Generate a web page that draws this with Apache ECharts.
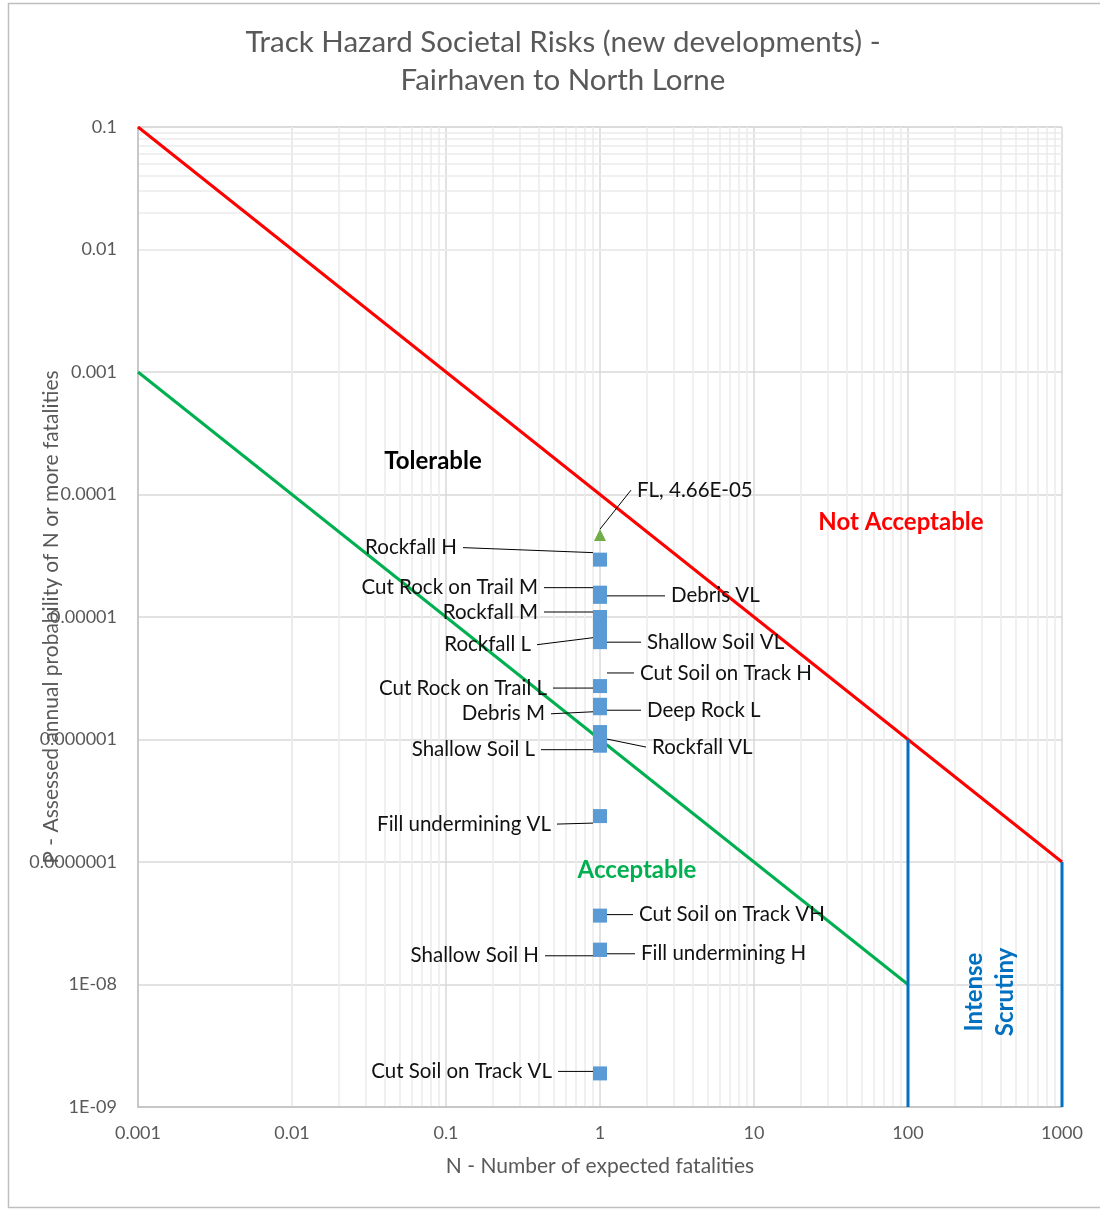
<!DOCTYPE html>
<html>
<head>
<meta charset="utf-8">
<script src="https://cdn.jsdelivr.net/npm/echarts@6/dist/echarts.min.js"></script>
<style>
  html, body { margin: 0; padding: 0; background: #ffffff; }
  #chart { width: 1100px; height: 1209px; }
</style>
</head>
<body>
<div id="chart"></div>
<script>
// ---- Data -------------------------------------------------------------
// Assessed hazards: N (expected fatalities) and P (annual probability)
const hazardNames = [
  'Rockfall H', 'Cut Rock on Trail M', 'Debris VL', 'Rockfall M', 'Rockfall L',
  'Shallow Soil VL', 'Cut Soil on Track H', 'Cut Rock on Trail L', 'Debris M',
  'Deep Rock L', 'Rockfall VL', 'Shallow Soil L', 'Fill undermining VL',
  'Cut Soil on Track VH', 'Shallow Soil H', 'Fill undermining H', 'Cut Soil on Track VL'
];
const hazardN = [1, 1, 1, 1, 1, 1, 1, 1, 1, 1, 1, 1, 1, 1, 1, 1, 1];
const hazardP = [
  2.94e-5, 1.58e-5, 1.46e-5, 1.0e-5, 7.73e-6,
  6.23e-6, 3.91e-6, 2.73e-6, 1.92e-6,
  1.80e-6, 1.15e-6, 8.9e-7, 2.37e-7,
  3.65e-8, 1.92e-8, 1.92e-8, 1.88e-9
];

// FL series (single point)
const flName = 'FL';
const flN = [1];
const flP = [4.66e-5];

// Societal risk criteria lines
const upperLimitN = [0.001, 1000];
const upperLimitP = [0.1, 1e-7];
const lowerLimitN = [0.001, 100];
const lowerLimitP = [0.001, 1e-8];
const scrutinyAN = [100, 100];
const scrutinyAP = [1e-6, 1e-9];
const scrutinyBN = [1000, 1000];
const scrutinyBP = [1e-7, 1e-9];

// Axis tick labels (one per decade)
const xTickLabels = ['0.001', '0.01', '0.1', '1', '10', '100', '1000'];
const yTickLabels = ['1E-09', '1E-08', '0.0000001', '0.000001', '0.00001',
                     '0.0001', '0.001', '0.01', '0.1'];

// ---- Label placement (offsets from each marker, in px) -----------------
const hazardLabelOffset = {
  'Rockfall H': [-137, -12],
  'Cut Rock on Trail M': [-56, -5],
  'Debris VL': [65, -1],
  'Rockfall M': [-56, -5],
  'Rockfall L': [-63, 14],
  'Shallow Soil VL': [41, 0],
  'Cut Soil on Track H': [34, 6],
  'Cut Rock on Trail L': [-47, 2],
  'Debris M': [-49, 9],
  'Deep Rock L': [41, 2],
  'Rockfall VL': [46, 15],
  'Shallow Soil L': [-59, 4],
  'Fill undermining VL': [-43, 8],
  'Cut Soil on Track VH': [33, -1],
  'Shallow Soil H': [-55, 6],
  'Fill undermining H': [35, 4],
  'Cut Soil on Track VL': [-42, -2]
};
const flLabelOffset = [31, -45];
const hiddenMarkers = ['Cut Soil on Track H'];

// ---- Helpers -----------------------------------------------------------
const FONT = 'Lato, "Open Sans", sans-serif';
const AXIS_GREY = '#595959';

function pairs(xs, ys) { return xs.map((x, i) => [x, ys[i]]); }
function decade(v) { return Math.round(Math.log10(v)); }
function sci(v) {
  const e = Math.floor(Math.log10(v));
  const m = v / Math.pow(10, e);
  const sign = e < 0 ? '-' : '+';
  const ae = Math.abs(e);
  return m.toFixed(2) + 'E' + sign + (ae < 10 ? '0' + ae : String(ae));
}

// Minor log gridlines at 2..9 within each decade
function minorLines(axisKey, fromExp, toExp) {
  const out = [];
  for (let e = fromExp; e < toExp; e++) {
    for (let k = 2; k <= 9; k++) {
      const o = {}; o[axisKey] = k * Math.pow(10, e);
      out.push(o);
    }
  }
  return out;
}

const hazardData = hazardNames.map((name, i) => {
  const item = { name: name, value: [hazardN[i], hazardP[i]] };
  if (hiddenMarkers.indexOf(name) >= 0) {
    item.itemStyle = { color: 'rgba(0,0,0,0)' };
  }
  return item;
});

const flData = flN.map((n, i) => ({ name: flName, value: [n, flP[i]] }));

// Transparent box + padding leaves a small gap between leader line and text
const pointLabel = {
  show: true,
  position: 'inside',
  color: '#111111',
  fontFamily: FONT,
  fontSize: 20.5,
  padding: [0, 6],
  backgroundColor: 'rgba(255,255,255,0)'
};
const leaderLine = { show: true, lineStyle: { color: '#000000', width: 1 } };

const chart = echarts.init(document.getElementById('chart'), null, { renderer: 'canvas' });

const option = {
  animation: false,
  backgroundColor: '#ffffff',
  title: {
    text: 'Track Hazard Societal Risks (new developments) -\nFairhaven to North Lorne',
    left: 558,
    top: 18,
    textAlign: 'center',
    textStyle: {
      fontFamily: FONT, fontSize: 29.5, fontWeight: 'normal',
      color: AXIS_GREY, lineHeight: 38
    }
  },
  grid: { left: 138, top: 127, right: 38, bottom: 102, containLabel: false },
  xAxis: {
    type: 'log', logBase: 10, min: 0.001, max: 1000, splitNumber: 6,
    name: 'N - Number of expected fatalities',
    nameLocation: 'middle', nameGap: 49, nameMoveOverlap: false,
    nameTextStyle: { fontFamily: FONT, fontSize: 21, color: AXIS_GREY },
    axisLine: { show: true, lineStyle: { color: '#BFBFBF', width: 1.5 } },
    axisTick: { show: false },
    axisLabel: {
      margin: 17, fontFamily: FONT, fontSize: 18, color: AXIS_GREY,
      formatter: v => xTickLabels[decade(v) + 3]
    },
    splitLine: { show: true, lineStyle: { color: '#D9D9D9', width: 1.5 } }
  },
  yAxis: {
    type: 'log', logBase: 10, min: 1e-9, max: 0.1, splitNumber: 8,
    name: 'P - Assessed annual probability of N or more fatalities',
    nameLocation: 'middle', nameGap: 76, nameRotate: 90, nameMoveOverlap: false,
    nameTextStyle: { fontFamily: FONT, fontSize: 21, color: AXIS_GREY },
    axisLine: { show: true, lineStyle: { color: '#BFBFBF', width: 1.5 } },
    axisTick: { show: false },
    axisLabel: {
      margin: 21, fontFamily: FONT, fontSize: 18, color: AXIS_GREY,
      formatter: v => yTickLabels[decade(v) + 9]
    },
    splitLine: { show: true, lineStyle: { color: '#D9D9D9', width: 1.5 } }
  },
  series: [
    {
      // minor gridlines
      name: 'minor-grid', type: 'line', data: [], silent: true, z: 0,
      markLine: {
        silent: true, symbol: 'none', label: { show: false }, z: 0,
        lineStyle: { color: '#EBEBEB', width: 1.5, type: 'solid' },
        data: minorLines('xAxis', -3, 3).concat(minorLines('yAxis', -9, -1))
      }
    },
    {
      name: 'Upper limit', type: 'line', data: pairs(upperLimitN, upperLimitP),
      symbol: 'none', silent: true, z: 3,
      lineStyle: { color: '#FF0000', width: 3 }
    },
    {
      name: 'Lower limit', type: 'line', data: pairs(lowerLimitN, lowerLimitP),
      symbol: 'none', silent: true, z: 3,
      lineStyle: { color: '#00B050', width: 3 }
    },
    {
      name: 'Scrutiny 100', type: 'line', data: pairs(scrutinyAN, scrutinyAP),
      symbol: 'none', silent: true, z: 3,
      lineStyle: { color: '#0070C0', width: 3 }
    },
    {
      name: 'Scrutiny 1000', type: 'line', data: pairs(scrutinyBN, scrutinyBP),
      symbol: 'none', silent: true, z: 3,
      lineStyle: { color: '#0070C0', width: 3 }
    },
    {
      name: 'Hazards', type: 'scatter', data: hazardData, z: 5, silent: true,
      symbol: 'rect', symbolSize: 14,
      itemStyle: { color: '#5B9BD5', opacity: 1 },
      label: Object.assign({}, pointLabel, { formatter: '{b}' }),
      labelLine: leaderLine,
      labelLayout: function (params) {
        const o = hazardLabelOffset[hazardNames[params.dataIndex]];
        return { dx: o[0], dy: o[1], align: o[0] < 0 ? 'right' : 'left', verticalAlign: 'middle' };
      }
    },
    {
      name: flName, type: 'scatter', data: flData, z: 6, silent: true,
      symbol: 'triangle', symbolSize: 12,
      itemStyle: { color: '#70AD47', opacity: 1 },
      label: Object.assign({}, pointLabel, {
        formatter: p => p.name + ', ' + sci(p.value[1])
      }),
      labelLine: leaderLine,
      labelLayout: function () {
        return { dx: flLabelOffset[0], dy: flLabelOffset[1], align: 'left', verticalAlign: 'middle' };
      }
    }
  ],
  graphic: [
    {
      type: 'rect', silent: true, z: -1,
      shape: { x: 8.5, y: 3.5, width: 1100, height: 1204 },
      style: { fill: 'none', stroke: '#BFBFBF', lineWidth: 1.5 }
    },
    {
      type: 'text', x: 433, y: 461, silent: true, z: 20,
      style: { text: 'Tolerable', fill: '#000000', font: 'bold 24px ' + FONT,
               align: 'center', verticalAlign: 'middle' }
    },
    {
      type: 'text', x: 901, y: 522, silent: true, z: 20,
      style: { text: 'Not Acceptable', fill: '#FF0000', font: 'bold 24px ' + FONT,
               align: 'center', verticalAlign: 'middle' }
    },
    {
      type: 'text', x: 637, y: 870, silent: true, z: 20,
      style: { text: 'Acceptable', fill: '#00B050', font: 'bold 24px ' + FONT,
               align: 'center', verticalAlign: 'middle' }
    },
    {
      type: 'text', x: 990, y: 992, rotation: Math.PI / 2, silent: true, z: 20,
      style: { text: 'Intense\nScrutiny', fill: '#0070C0', font: 'bold 24px ' + FONT,
               lineHeight: 31, align: 'center', verticalAlign: 'middle' }
    }
  ]
};

chart.setOption(option);
</script>
</body>
</html>
